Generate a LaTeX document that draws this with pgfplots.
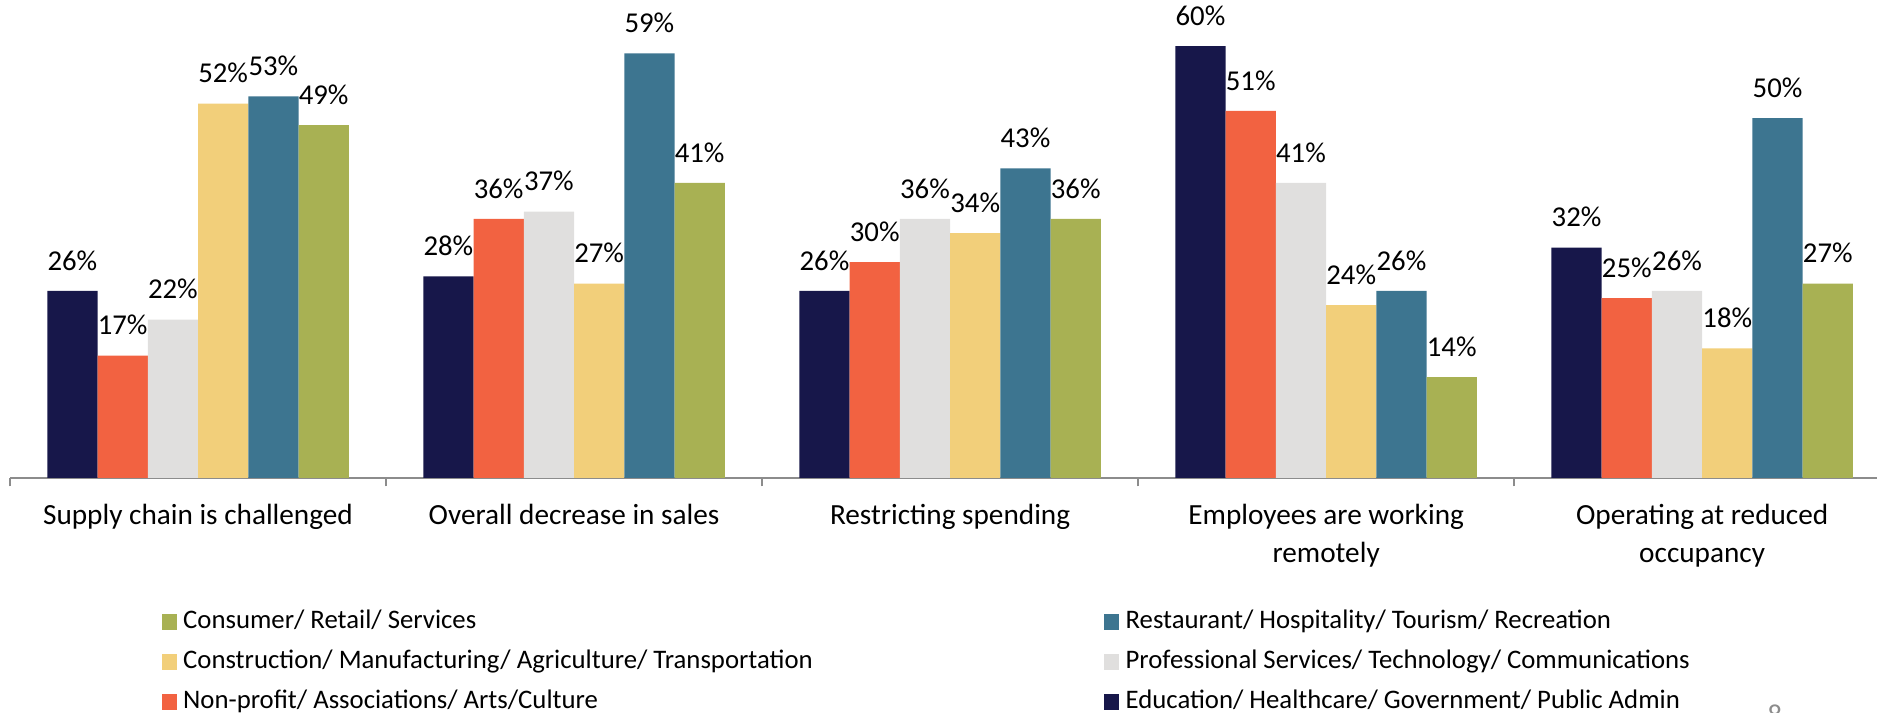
\documentclass[border=0pt]{standalone}
\usepackage{pgfplots}
\usepackage{pgfplotstable}
\pgfplotsset{compat=1.18}
\usepackage{fontspec}
\setmainfont{Carlito}
\definecolor{cnavy}{RGB}{23,23,74}
\definecolor{corange}{RGB}{242,98,65}
\definecolor{cgray}{RGB}{224,223,222}
\definecolor{cyellow}{RGB}{242,207,122}
\definecolor{cteal}{RGB}{61,117,144}
\definecolor{colive}{RGB}{168,177,83}
\definecolor{axisgray}{RGB}{140,140,140}
\pgfplotstableread{
x edu np prof con rest cons
0 26 17 22 52 53 49
1 28 36 37 27 59 41
2 26 30 36 34 43 36
3 60 51 41 24 26 14
4 32 25 26 18 50 27
}\data
\begin{document}
\begin{tikzpicture}
\useasboundingbox (0,0) rectangle (750.8pt,285.2pt);
\begin{axis}[
  at={(4pt,94pt)}, anchor=south west,
  scale only axis, width=746.8pt, height=191.2pt,
  xmin=-0.5, xmax=4.465, ymin=0, ymax=66.4,
  enlargelimits=false, clip=false,
  ybar=0pt, bar width=20.1pt,
  axis x line*=bottom, axis y line=none,
  axis line style={draw=axisgray, line width=1pt},
  xtick={0,1,2,3,4},
  xticklabels={Supply chain is challenged, Overall decrease in sales, Restricting spending, {Employees are working\\remotely}, {Operating at reduced\\occupancy}},
  major tick length=0pt,
  xticklabel style={font=\fontsize{11.7}{15.3}\selectfont, align=center, anchor=north, yshift=-7pt},
  extra x ticks={-0.5,0.5,1.5,2.5,3.5},
  extra x tick labels={},
  extra x tick style={major tick length=3.4pt, tick align=outside, tick style={draw=axisgray, line width=0.9pt}},
  /pgf/number format/assume math mode=true,
  nodes near coords={\pgfmathprintnumber{\pgfplotspointmeta}\%},
  nodes near coords style={font=\fontsize{11.5}{13}\selectfont, anchor=south, inner sep=0pt, yshift=8pt, text=black},
  legend columns=2,
  reverse legend,
  legend style={draw=none, fill=none, at={(axis description cs:0.0811,-0.2720)}, anchor=north west,
     font=\fontsize{10.7}{13}\selectfont, inner sep=0pt,
     nodes={inner xsep=2.5pt, inner ysep=0pt, text height=8pt, text depth=2.5pt},
     /tikz/row sep=5.5pt},
  legend cell align=left,
  legend image code/.code={\fill[#1] (0pt,-3.2pt) rectangle (6pt,3.2pt);},
]
\addplot[fill=cnavy, draw=none] table[x=x,y=edu]{\data};
\addlegendentry{Education/ Healthcare/ Government/ Public Admin}
\addplot[fill=corange, draw=none] table[x=x,y=np]{\data};
\addlegendentry{\makebox[366pt][l]{Non-profit/ Associations/ Arts/Culture}}
\addplot[fill=cgray, draw=none] table[x=x,y=prof]{\data};
\addlegendentry{Professional Services/ Technology/ Communications}
\addplot[fill=cyellow, draw=none] table[x=x,y=con]{\data};
\addlegendentry{\makebox[366pt][l]{Construction/ Manufacturing/ Agriculture/ Transportation}}
\addplot[fill=cteal, draw=none] table[x=x,y=rest]{\data};
\addlegendentry{Restaurant/ Hospitality/ Tourism/ Recreation}
\addplot[fill=colive, draw=none] table[x=x,y=cons]{\data};
\addlegendentry{\makebox[366pt][l]{Consumer/ Retail/ Services}}
\end{axis}
\node[anchor=north, inner sep=0pt, text=axisgray, font=\fontsize{11.5}{13}\selectfont] at (710pt,3.6pt) {8};
\end{tikzpicture}
\end{document}
